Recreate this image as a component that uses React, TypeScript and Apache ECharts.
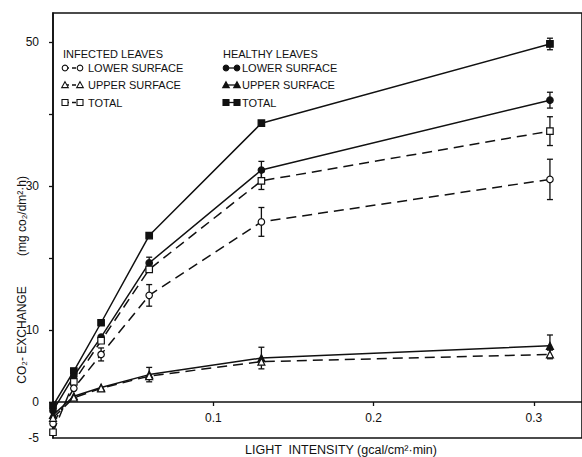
import React, { useEffect, useRef } from "react";
import * as echarts from "echarts";

const X = [0, 0.013, 0.03, 0.06, 0.13, 0.31];

const healthyTotal = [-0.5, 4.3, 11.0, 23.1, 38.7, 49.7];
const healthyTotalErr = [0, 0, 0, 0, 0, 0.8];
const healthyLower = [-1.2, 3.6, 9.0, 19.3, 32.2, 41.9];
const healthyLowerErr = [0, 0, 0, 0.8, 1.2, 1.1];
const healthyUpper = [-1.8, 0.8, 2.0, 3.8, 6.1, 7.8];
const healthyUpperErr = [0, 0, 0, 1.0, 1.5, 1.5];

const infectedTotal = [-4.2, 2.8, 8.5, 18.4, 30.7, 37.6];
const infectedTotalErr = [0, 0, 0, 0, 1.2, 2.0];
const infectedLower = [-3.0, 1.9, 6.6, 14.8, 25.0, 30.9];
const infectedLowerErr = [0, 0, 0.9, 1.5, 2.0, 2.8];
const infectedUpper = [-2.2, 0.6, 1.9, 3.6, 5.6, 6.6];
const infectedUpperErr = [0, 0, 0, 0, 0, 0.6];

const yLabelValues = [-5, 0, 10, 30, 50];
const yTickValues = [0, 10, 20, 30, 40, 50];
const xTickValues = [0.1, 0.2, 0.3];

const INK = "#111";
const FONT = "Liberation Sans";

const pairs = (ys: number[]) => X.map((x, i) => [x, ys[i]]);
const errPairs = (ys: number[], es: number[]) =>
  X.map((x, i) => [x, ys[i], es[i]]).filter((d) => d[2] > 0);

function lineSeries(name: string, ys: number[], symbol: string, filled: boolean, dashed: boolean) {
  return {
    name,
    type: "line",
    data: pairs(ys),
    symbol,
    symbolSize: symbol === "triangle" ? 7 : 6.5,
    z: 3,
    lineStyle: { color: INK, width: 1.5, type: dashed ? [10, 6] : "solid" },
    itemStyle: { color: filled ? INK : "#fff", borderColor: INK, borderWidth: 1.2 },
    emphasis: { disabled: true },
  };
}

function errSeries(ys: number[], es: number[]) {
  return {
    type: "custom",
    data: errPairs(ys, es),
    encode: { x: 0, y: 1 },
    z: 2,
    silent: true,
    renderItem: (params: any, api: any) => {
      const x = api.value(0);
      const y = api.value(1);
      const e = api.value(2);
      const t = api.coord([x, y + e]);
      const b = api.coord([x, y - e]);
      const hw = 3;
      const st = { stroke: INK, lineWidth: 1.3 };
      return {
        type: "group",
        children: [
          { type: "line", shape: { x1: t[0], y1: t[1], x2: b[0], y2: b[1] }, style: st },
          { type: "line", shape: { x1: t[0] - hw, y1: t[1], x2: t[0] + hw, y2: t[1] }, style: st },
          { type: "line", shape: { x1: b[0] - hw, y1: b[1], x2: b[0] + hw, y2: b[1] }, style: st },
        ],
      };
    },
  };
}

function legendSymbol(kind: string, filled: boolean, cx: number, cy: number): any {
  const fill = filled ? INK : "#fff";
  const st = { fill, stroke: INK, lineWidth: 1.1 };
  if (kind === "circle") return { type: "circle", shape: { cx, cy, r: 2.8 }, style: st };
  if (kind === "rect") return { type: "rect", shape: { x: cx - 3, y: cy - 3, width: 6, height: 6 }, style: st };
  return {
    type: "polygon",
    shape: { points: [[cx, cy - 3.3], [cx + 3.3, cy + 2.6], [cx - 3.3, cy + 2.6]] },
    style: st,
  };
}

function legendRow(x1: number, x2: number, y: number, kind: string, filled: boolean, dashed: boolean, label: string, tx: number): any[] {
  return [
    {
      type: "line",
      shape: { x1, y1: y, x2, y2: y },
      style: { stroke: INK, lineWidth: 1.3, lineDash: dashed ? [4, 3] : null },
    },
    legendSymbol(kind, filled, x1, y),
    legendSymbol(kind, filled, x2, y),
    {
      type: "text",
      x: tx,
      y,
      style: { text: label, fill: INK, font: `11px '${FONT}'`, verticalAlign: "middle", align: "left" },
    },
  ];
}

export default function App() {
  const ref = useRef<HTMLDivElement>(null);

  useEffect(() => {
    if (!ref.current) return;
    const chart = echarts.init(ref.current, null, { renderer: "svg" });
    const textStyle = { color: INK, fontFamily: FONT, fontSize: 12 };
    chart.setOption({
      animation: false,
      backgroundColor: "#fff",
      grid: {
        left: 53,
        top: 13,
        width: 536,
        height: 425,
        show: true,
        borderColor: INK,
        borderWidth: 1.6,
        backgroundColor: "transparent",
      },
      xAxis: {
        type: "value",
        min: 0,
        max: 0.33,
        interval: 0.1,
        position: "bottom",
        offset: -36,
        axisLine: { show: true, onZero: false, lineStyle: { color: INK, width: 1.6 } },
        axisTick: { show: true, length: 4, customValues: xTickValues, lineStyle: { color: INK, width: 1.3 } },
        axisLabel: { ...textStyle, margin: 10, customValues: xTickValues, formatter: (v: number) => v.toFixed(1) },
        splitLine: { show: false },
      },
      yAxis: {
        type: "value",
        min: -5,
        max: 54,
        interval: 5,
        axisLine: { show: true, lineStyle: { color: INK, width: 1.6 } },
        axisTick: { show: true, length: 4, customValues: yTickValues, lineStyle: { color: INK, width: 1.3 } },
        axisLabel: { ...textStyle, margin: 14, customValues: yLabelValues },
        splitLine: { show: false },
      },
      series: [
        errSeries(healthyTotal, healthyTotalErr),
        errSeries(healthyLower, healthyLowerErr),
        errSeries(healthyUpper, healthyUpperErr),
        errSeries(infectedTotal, infectedTotalErr),
        errSeries(infectedLower, infectedLowerErr),
        errSeries(infectedUpper, infectedUpperErr),
        lineSeries("Healthy total", healthyTotal, "rect", true, false),
        lineSeries("Healthy lower surface", healthyLower, "circle", true, false),
        lineSeries("Healthy upper surface", healthyUpper, "triangle", true, false),
        lineSeries("Infected total", infectedTotal, "rect", false, true),
        lineSeries("Infected lower surface", infectedLower, "circle", false, true),
        lineSeries("Infected upper surface", infectedUpper, "triangle", false, true),
      ],
      graphic: [
        {
          type: "text",
          x: 63,
          y: 54,
          style: { text: "INFECTED LEAVES", fill: INK, font: `11px '${FONT}'`, verticalAlign: "middle" },
        },
        ...legendRow(65, 80, 68, "circle", false, true, "LOWER SURFACE", 88),
        ...legendRow(65, 80, 85, "triangle", false, true, "UPPER SURFACE", 88),
        ...legendRow(65, 80, 102.5, "rect", false, true, "TOTAL", 88),
        {
          type: "text",
          x: 223,
          y: 54,
          style: { text: "HEALTHY LEAVES", fill: INK, font: `11px '${FONT}'`, verticalAlign: "middle" },
        },
        ...legendRow(226, 237, 68, "circle", true, false, "LOWER SURFACE", 242),
        ...legendRow(226, 237, 85, "triangle", true, false, "UPPER SURFACE", 242),
        ...legendRow(226, 237, 102.5, "rect", true, false, "TOTAL", 242),
        {
          type: "text",
          x: 22,
          y: 335,
          rotation: Math.PI / 2,
          style: { text: "CO₂- EXCHANGE", fill: INK, font: `12px '${FONT}'`, align: "center", verticalAlign: "middle" },
        },
        {
          type: "text",
          x: 22,
          y: 216,
          rotation: Math.PI / 2,
          style: { text: "(mg co₂/dm²·h)", fill: INK, font: `12px '${FONT}'`, align: "center", verticalAlign: "middle" },
        },
        {
          type: "text",
          x: 341,
          y: 450,
          style: {
            text: "LIGHT  INTENSITY (gcal/cm²·min)",
            fill: INK,
            font: `12.5px '${FONT}'`,
            align: "center",
            verticalAlign: "middle",
          },
        },
      ],
    });
    return () => chart.dispose();
  }, []);

  return (
    <div
      ref={ref}
      style={{ position: "fixed", left: 0, top: 0, width: 582, height: 457, background: "#fff" }}
    />
  );
}
